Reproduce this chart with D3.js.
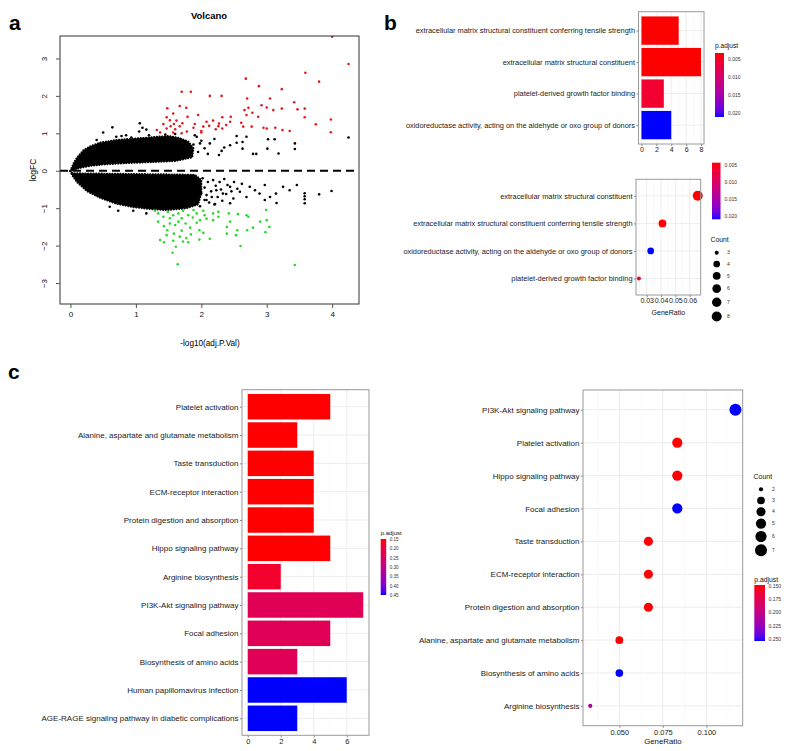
<!DOCTYPE html>
<html>
<head>
<meta charset="utf-8">
<script src="https://cdn.jsdelivr.net/npm/d3@7"></script>
<style>
  body { margin: 0; background: #fff; }
  svg text { font-family: "Liberation Sans", Arial, Helvetica, sans-serif; }
</style>
</head>
<body>
<div id="figure"></div>
<script>
// ---------- panel a: volcano ----------
const volcanoXTicks = [0, 1, 2, 3, 4];
const volcanoYTicks = [-3, -2, -1, 0, 1, 2, 3];

// [-log10(adj.P.Val), logFC]
const upGenes = [
  [4.0, 3.58], [4.25, 2.85], [3.59, 2.62], [3.80, 2.38], [2.68, 2.46], [2.88, 2.26], [3.23, 2.18],
  [1.70, 2.11], [1.84, 2.11], [2.13, 2.0], [2.31, 2.0], [2.70, 1.93], [3.05, 1.93], [3.42, 1.83],
  [3.47, 1.64], [3.58, 1.66], [3.23, 1.66], [3.10, 1.62], [2.92, 1.75], [3.0, 1.69], [2.72, 1.68],
  [2.78, 1.55], [2.69, 1.49], [1.48, 1.67], [1.67, 1.73], [1.77, 1.68], [1.57, 1.53], [1.79, 1.44],
  [1.95, 1.49], [1.47, 1.43], [1.52, 1.35], [1.62, 1.34], [1.71, 1.27], [1.53, 1.19], [1.47, 1.13],
  [1.60, 1.11], [1.67, 1.19], [1.90, 1.25], [1.32, 1.09], [1.37, 1.02], [1.57, 1.02], [1.70, 1.0],
  [2.0, 1.06], [2.08, 1.31], [2.18, 1.34], [2.32, 1.43], [2.45, 1.44], [2.26, 1.19], [2.32, 1.13],
  [2.44, 1.31], [2.22, 1.11], [2.0, 1.02], [2.61, 1.28], [2.64, 1.18], [2.77, 1.18], [2.95, 1.15],
  [3.0, 1.13], [3.13, 1.15], [3.24, 1.09], [3.35, 1.06], [3.58, 1.43], [3.75, 1.24], [3.98, 1.37],
  [3.98, 1.03], [2.87, 1.44], [2.66, 1.62], [2.03, 1.18], [1.42, 1.25], [1.58, 1.25], [1.88, 1.15],
  [2.12, 1.2], [2.27, 1.26], [1.78, 1.05], [2.38, 1.22]
];
const downGenes = [
  [3.43, -2.52], [1.64, -2.50], [1.56, -2.19], [1.61, -2.03], [2.60, -2.01], [1.37, -1.85],
  [1.43, -1.91], [1.57, -1.87], [1.72, -1.89], [1.80, -1.91], [2.13, -1.82], [1.67, -1.76],
  [1.84, -1.70], [2.03, -1.66], [2.39, -1.68], [2.53, -1.72], [2.98, -1.64], [2.70, -1.59],
  [2.55, -1.59], [2.39, -1.50], [2.79, -1.52], [3.04, -1.50], [1.48, -1.59], [1.58, -1.68],
  [1.70, -1.60], [1.97, -1.59], [1.43, -1.48], [1.52, -1.41], [1.65, -1.36], [1.76, -1.41],
  [1.93, -1.39], [2.08, -1.28], [2.18, -1.32], [2.26, -1.23], [2.44, -1.36], [2.56, -1.16],
  [2.72, -1.23], [2.90, -1.36], [3.0, -1.32], [2.99, -1.05], [1.34, -1.36], [1.34, -1.14],
  [1.42, -1.23], [1.49, -1.10], [1.57, -1.19], [1.65, -1.14], [1.72, -1.07], [1.80, -1.19],
  [1.87, -1.25], [1.93, -1.14], [1.98, -1.32], [2.05, -1.19], [2.18, -1.14], [2.26, -1.10],
  [2.42, -1.14], [2.69, -1.19], [1.29, -1.07], [1.52, -1.27], [1.60, -1.45], [1.83, -1.52],
  [1.70, -1.27], [1.88, -1.05], [2.03, -1.07], [1.47, -1.72], [1.77, -1.80], [1.97, -1.84]
];
const otherGenes = [
  [4.25, 0.89], [3.43, 0.73], [3.43, 0.58], [3.18, 0.46], [3.12, 0.84], [3.02, 0.84], [3.01, 0.59],
  [2.79, 0.45], [2.84, 0.45], [2.69, 0.91], [2.63, 0.77], [2.63, 0.59], [2.54, 0.93], [2.54, 0.75],
  [2.44, 0.68], [2.31, 0.53], [2.27, 0.42], [2.13, 0.73], [1.98, 0.73], [1.85, 0.42], [1.93, 0.91],
  [1.06, 1.27], [1.10, 1.15], [1.16, 1.10], [0.64, 1.16], [0.50, 1.02], [0.70, 0.91], [0.78, 0.93],
  [0.40, 0.82], [0.93, 0.89], [1.95, 0.5], [2.0, 0.8], [2.05, 0.6], [1.9, 0.95], [2.1, 0.45],
  [1.6, 0.98], [1.45, 0.97], [1.2, 0.95], [1.05, 1.05], [0.85, 0.95], [2.2, 0.85], [2.35, 0.62],
  [3.99, -0.54], [3.80, -0.63], [3.58, -0.60], [3.58, -0.68], [3.58, -0.76], [3.58, -0.87],
  [3.46, -0.38], [3.35, -0.52], [3.25, -0.43], [3.14, -0.61], [3.15, -0.86], [3.05, -0.70],
  [2.97, -0.38], [2.97, -0.78], [2.89, -0.61], [2.82, -0.52], [2.74, -0.43], [2.69, -0.70],
  [2.59, -0.56], [2.49, -0.74], [2.44, -0.43], [2.33, -0.61], [2.23, -0.52], [2.16, -0.70],
  [2.08, -0.78], [2.0, -0.61], [2.44, -0.87], [2.21, -0.89], [0.73, -1.07], [0.96, -1.07],
  [1.16, -1.14], [0.60, -0.96], [2.02, -0.2], [2.05, -0.45], [2.08, -0.65], [2.1, -0.3],
  [2.12, -0.85], [2.15, -0.55], [2.18, -0.25], [2.22, -0.4], [2.25, -0.7], [2.28, -0.3],
  [2.3, -0.5], [2.35, -0.22], [2.38, -0.62], [2.4, -0.38], [2.46, -0.55], [2.5, -0.3],
  [2.55, -0.48], [2.62, -0.35], [2.05, -0.78], [2.2, -0.9], [1.98, -0.95], [2.32, -0.8],
  [1.8, 0.55], [1.72, 0.78], [1.88, 0.7], [1.65, 0.62]
];
// outlines of the dense black clouds
const cloudUpper = [
  [0, 0], [0.05, 0.2], [0.1, 0.35], [0.2, 0.55], [0.3, 0.65], [0.45, 0.75], [0.7, 0.82], [1.0, 0.86],
  [1.3, 0.9], [1.5, 0.93], [1.65, 0.88], [1.8, 0.78], [1.88, 0.6], [1.86, 0.36], [1.6, 0.26],
  [1.2, 0.23], [0.8, 0.2], [0.5, 0.17], [0.3, 0.13], [0.15, 0.08], [0.05, 0.02]
];
const cloudLower = [
  [0, 0], [0.03, -0.07], [0.5, -0.08], [1.0, -0.09], [1.5, -0.1], [1.9, -0.11], [2.0, -0.25],
  [2.0, -0.6], [1.95, -0.9], [1.77, -1.0], [1.47, -1.05], [1.21, -1.02], [0.96, -0.97],
  [0.7, -0.88], [0.45, -0.72], [0.25, -0.54], [0.1, -0.3], [0.02, -0.1]
];

// ---------- panel b: GO molecular function ----------
const mfBarTerms = [
  "extracellular matrix structural constituent conferring tensile strength",
  "extracellular matrix structural constituent",
  "platelet-derived growth factor binding",
  "oxidoreductase activity, acting on the aldehyde or oxo group of donors"
];
const mfBarCount = [5, 8, 3, 4];
const mfBarPadj = [0.0033, 0.0033, 0.0055, 0.0211];
const mfBarCountTicks = [0, 2, 4, 6, 8];
const mfPadjTicks = [0.005, 0.010, 0.015, 0.020];

const mfDotTerms = [
  "extracellular matrix structural constituent",
  "extracellular matrix structural constituent conferring tensile strength",
  "oxidoreductase activity, acting on the aldehyde or oxo group of donors",
  "platelet-derived growth factor binding"
];
const mfDotRatio = [0.0656, 0.0410, 0.0328, 0.0246];
const mfDotCount = [8, 5, 4, 3];
const mfDotPadj = [0.0043, 0.0043, 0.0210, 0.0058];
const mfRatioTicks = [0.03, 0.04, 0.05, 0.06];
const mfCountKeys = [3, 4, 5, 6, 7, 8];

// ---------- panel c: KEGG ----------
const keggBarTerms = [
  "Platelet activation", "Alanine, aspartate and glutamate metabolism", "Taste transduction",
  "ECM-receptor interaction", "Protein digestion and absorption", "Hippo signaling pathway",
  "Arginine biosynthesis", "PI3K-Akt signaling pathway", "Focal adhesion",
  "Biosynthesis of amino acids", "Human papillomavirus infection",
  "AGE-RAGE signaling pathway in diabetic complications"
];
const keggBarCount = [5, 3, 4, 4, 4, 5, 2, 7, 5, 3, 6, 3];
const keggBarPadj = [0.148, 0.148, 0.148, 0.148, 0.148, 0.148, 0.18, 0.23, 0.23, 0.23, 0.448, 0.448];
const keggBarCountTicks = [0, 2, 4, 6];
const keggBarPadjTicks = [0.15, 0.20, 0.25, 0.30, 0.35, 0.40, 0.45];

const keggDotTerms = [
  "PI3K-Akt signaling pathway", "Platelet activation", "Hippo signaling pathway", "Focal adhesion",
  "Taste transduction", "ECM-receptor interaction", "Protein digestion and absorption",
  "Alanine, aspartate and glutamate metabolism", "Biosynthesis of amino acids", "Arginine biosynthesis"
];
const keggDotRatio = [0.1167, 0.0833, 0.0833, 0.0833, 0.0667, 0.0667, 0.0667, 0.05, 0.05, 0.0333];
const keggDotCount = [7, 5, 5, 5, 4, 4, 4, 3, 3, 2];
const keggDotPadj = [0.2535, 0.148, 0.148, 0.2535, 0.148, 0.148, 0.148, 0.148, 0.2535, 0.21];
const keggRatioTicks = [0.050, 0.075, 0.100];
const keggDotPadjTicks = [0.150, 0.175, 0.200, 0.225, 0.250];
const keggCountKeys = [2, 3, 4, 5, 6, 7];

const svg = d3.select("#figure").append("svg").attr("width", 800).attr("height", 751);
const defs = svg.append("defs");

const padjColor = domain => d3.scaleLinear().domain(domain).range(["#ff0000", "#0000ff"]).interpolate(d3.interpolateLab);
const sizeScale = (ext, rmin, rmax) => c => rmin + (rmax - rmin) * Math.sqrt((c - ext[0]) / (ext[1] - ext[0]));

function minorBreaks(major, domain) {
  const step = major[1] - major[0];
  const out = [];
  for (let i = -1; i < major.length; i++) {
    const v = major[0] + (i + 0.5) * step;
    if (v > domain[0] && v < domain[1]) out.push(v);
  }
  return out;
}

// white panel + grid like theme_bw
function ggFrame(g, box, cats, x, major) {
  const n = cats.length;
  const step = (box.y1 - box.y0) / (n - 1 + 1.2);
  const y = d3.scalePoint().domain(cats).range([box.y0 + 0.6 * step, box.y1 - 0.6 * step]);
  g.append("rect").attr("x", box.x0).attr("y", box.y0)
    .attr("width", box.x1 - box.x0).attr("height", box.y1 - box.y0).attr("fill", "#fff");
  g.append("g").selectAll("line").data(minorBreaks(major, x.domain())).join("line")
    .attr("x1", d => x(d)).attr("x2", d => x(d)).attr("y1", box.y0).attr("y2", box.y1)
    .attr("stroke", "#f3f3f3").attr("stroke-width", 0.5);
  g.append("g").selectAll("line").data(major).join("line")
    .attr("x1", d => x(d)).attr("x2", d => x(d)).attr("y1", box.y0).attr("y2", box.y1)
    .attr("stroke", "#e8e8e8").attr("stroke-width", 0.8);
  g.append("g").selectAll("line").data(cats).join("line")
    .attr("x1", box.x0).attr("x2", box.x1).attr("y1", d => y(d)).attr("y2", d => y(d))
    .attr("stroke", "#e8e8e8").attr("stroke-width", 0.8);
  return { y, step };
}

function ggAxes(g, box, x, y, major, fmt, o) {
  const ax = g.append("g").attr("transform", `translate(0,${box.y1})`)
    .call(d3.axisBottom(x).tickValues(major).tickFormat(fmt).tickSize(2).tickPadding(1.5));
  ax.select(".domain").remove();
  ax.attr("font-family", null);
  ax.selectAll("line").attr("stroke", "#333").attr("stroke-width", 0.6);
  ax.selectAll("text").attr("font-size", o.tickFont).attr("fill", "#222");

  const ay = g.append("g").attr("transform", `translate(${box.x0},0)`)
    .call(d3.axisLeft(y).tickSize(2).tickPadding(1.5));
  ay.select(".domain").remove();
  ay.attr("font-family", null);
  ay.selectAll("line").attr("stroke", "#333").attr("stroke-width", 0.6);
  ay.selectAll("text").attr("font-size", o.labelFont).attr("fill", "#1a1a1a");

  g.append("rect").attr("x", box.x0).attr("y", box.y0)
    .attr("width", box.x1 - box.x0).attr("height", box.y1 - box.y0)
    .attr("fill", "none").attr("stroke", "#9a9a9a").attr("stroke-width", 1);

  if (o.xTitle) {
    g.append("text").attr("x", (box.x0 + box.x1) / 2).attr("y", o.xTitleY)
      .attr("text-anchor", "middle").attr("font-size", o.titleFont).attr("fill", "#111").text(o.xTitle);
  }
}

function colorbar(g, o) {
  const color = padjColor(o.domain);
  const grad = defs.append("linearGradient").attr("id", o.id)
    .attr("x1", 0).attr("y1", 0).attr("x2", 0).attr("y2", 1);
  d3.range(0, 1.0001, 0.05).forEach(t => grad.append("stop").attr("offset", t)
    .attr("stop-color", color(o.domain[0] + t * (o.domain[1] - o.domain[0]))));
  g.append("rect").attr("x", o.x).attr("y", o.y).attr("width", o.w).attr("height", o.h)
    .attr("fill", `url(#${o.id})`);
  const s = d3.scaleLinear().domain(o.domain).range([o.y, o.y + o.h]);
  g.append("g").selectAll("text").data(o.ticks).join("text")
    .attr("x", o.x + o.w + o.gap).attr("y", d => s(d)).attr("dy", "0.35em")
    .attr("font-size", o.font).attr("fill", "#333").text(d3.format(o.fmt));
  if (o.title) {
    g.append("text").attr("x", o.x).attr("y", o.titleY)
      .attr("font-size", o.titleFont).attr("fill", "#111").text(o.title);
  }
}

function sizeLegend(g, o) {
  let yy = o.y0;
  const ys = o.keys.map((k, i) => {
    if (i > 0) yy += Math.max(o.minStep, o.r(o.keys[i - 1]) + o.r(k) + o.pad);
    return yy;
  });
  g.append("text").attr("x", o.titleX).attr("y", o.titleY)
    .attr("font-size", o.titleFont).attr("fill", "#111").text("Count");
  g.append("g").selectAll("circle").data(o.keys).join("circle")
    .attr("cx", o.x).attr("cy", (d, i) => ys[i]).attr("r", d => o.r(d)).attr("fill", "#000");
  g.append("g").selectAll("text").data(o.keys).join("text")
    .attr("x", o.labelX).attr("y", (d, i) => ys[i]).attr("dy", "0.35em")
    .attr("font-size", o.font).attr("fill", "#333").text(d => d);
}

function barPanel(o) {
  const g = svg.append("g");
  const x = d3.scaleLinear().domain(o.xDomain).range([o.box.x0, o.box.x1]);
  const { y, step } = ggFrame(g, o.box, o.terms, x, o.ticks);
  const color = padjColor(d3.extent(o.padj));
  g.append("g").selectAll("rect").data(o.terms).join("rect")
    .attr("x", x(0)).attr("y", d => y(d) - 0.45 * step)
    .attr("width", (d, i) => x(o.count[i]) - x(0)).attr("height", 0.9 * step)
    .attr("fill", (d, i) => color(o.padj[i]));
  ggAxes(g, o.box, x, y, o.ticks, d3.format("d"), o);
  return g;
}

function dotPanel(o) {
  const g = svg.append("g");
  const ext = d3.extent(o.ratio);
  const pad = (ext[1] - ext[0]) * 0.05;
  const x = d3.scaleLinear().domain([ext[0] - pad, ext[1] + pad]).range([o.box.x0, o.box.x1]);
  const { y } = ggFrame(g, o.box, o.terms, x, o.ticks);
  const color = padjColor(d3.extent(o.padj));
  g.append("g").selectAll("circle").data(o.terms).join("circle")
    .attr("cx", (d, i) => x(o.ratio[i])).attr("cy", d => y(d))
    .attr("r", (d, i) => o.r(o.count[i]))
    .attr("fill", (d, i) => color(o.padj[i]));
  ggAxes(g, o.box, x, y, o.ticks, d3.format(o.fmt), o);
  return g;
}

// ---------- draw panel a ----------
function drawVolcano() {
  const box = { x0: 60, x1: 359, y0: 36, y1: 304 };
  const x = d3.scaleLinear().domain([-0.16, 4.41]).range([box.x0, box.x1]);
  const y = d3.scaleLinear().domain([-3.56, 3.6]).range([box.y1, box.y0]);
  const g = svg.append("g");
  defs.append("clipPath").attr("id", "clipA").append("rect")
    .attr("x", box.x0).attr("y", box.y0).attr("width", box.x1 - box.x0).attr("height", box.y1 - box.y0);
  const plot = g.append("g").attr("clip-path", "url(#clipA)");

  const outline = d3.line().x(d => x(d[0])).y(d => y(d[1])).curve(d3.curveLinearClosed);
  [cloudUpper, cloudLower].forEach(poly => {
    plot.append("path").attr("d", outline(poly)).attr("fill", "#000");
    plot.append("path").attr("d", outline(poly)).attr("fill", "none")
      .attr("stroke", "#000").attr("stroke-width", 2.2)
      .attr("stroke-linecap", "round").attr("stroke-dasharray", "0.1 2.6");
  });

  const dots = (data, color) => plot.append("g").selectAll("circle").data(data).join("circle")
    .attr("cx", d => x(d[0])).attr("cy", d => y(d[1])).attr("r", 1.3).attr("fill", color);
  dots(otherGenes, "#000");
  plot.append("line").attr("x1", box.x0).attr("x2", box.x1).attr("y1", y(0)).attr("y2", y(0))
    .attr("stroke", "#000").attr("stroke-width", 2).attr("stroke-dasharray", "8 5");
  dots(upGenes, "#e31a1c");
  dots(downGenes, "#2fd62f");

  g.append("rect").attr("x", box.x0).attr("y", box.y0)
    .attr("width", box.x1 - box.x0).attr("height", box.y1 - box.y0)
    .attr("fill", "none").attr("stroke", "#333").attr("stroke-width", 1);

  const ax = g.append("g").attr("transform", `translate(0,${box.y1})`)
    .call(d3.axisBottom(x).tickValues(volcanoXTicks).tickFormat(d3.format("d")).tickSize(4).tickPadding(3));
  ax.select(".domain").remove();
  ax.attr("font-family", null);
  ax.selectAll("line").attr("stroke", "#555");
  ax.selectAll("text").attr("font-size", 8).attr("fill", "#111");

  const ay = g.append("g").attr("transform", `translate(${box.x0},0)`)
    .call(d3.axisLeft(y).tickValues(volcanoYTicks).tickFormat(d3.format("d")).tickSize(4).tickPadding(3));
  ay.select(".domain").remove();
  ay.attr("font-family", null);
  ay.selectAll("line").attr("stroke", "#555");
  ay.selectAll("text").attr("font-size", 8).attr("fill", "#111")
    .attr("text-anchor", "middle").attr("x", -13).attr("dy", 0)
    .attr("transform", "rotate(-90,-13,0)");

  g.append("text").attr("x", 209).attr("y", 19).attr("text-anchor", "middle")
    .attr("font-size", 9.5).attr("font-weight", "bold").text("Volcano");
  g.append("text").attr("x", 210).attr("y", 346).attr("text-anchor", "middle")
    .attr("font-size", 8.2).text("-log10(adj.P.Val)");
  g.append("text").attr("transform", "translate(36,170) rotate(-90)").attr("text-anchor", "middle")
    .attr("font-size", 8.5).text("logFC");
}
drawVolcano();

// ---------- draw panel b ----------
const gbBar = barPanel({
  box: { x0: 638.5, x1: 704, y0: 11.7, y1: 144 }, xDomain: [-0.4, 8.4],
  terms: mfBarTerms, count: mfBarCount, padj: mfBarPadj, ticks: mfBarCountTicks,
  tickFont: 7, labelFont: 7.4
});
colorbar(gbBar, {
  id: "gradMfBar", x: 715, y: 53, w: 9, h: 64, domain: d3.extent(mfBarPadj),
  ticks: mfPadjTicks, fmt: ".3f", gap: 4, font: 5,
  title: "p.adjust", titleY: 48, titleFont: 6.6
});

const mfR = sizeScale(d3.extent(mfDotCount), 2, 5);
const gbDot = dotPanel({
  box: { x0: 636, x1: 700.7, y0: 179.3, y1: 295 },
  terms: mfDotTerms, ratio: mfDotRatio, count: mfDotCount, padj: mfDotPadj,
  ticks: mfRatioTicks, fmt: ".2f", r: mfR,
  tickFont: 7, labelFont: 7.4, xTitle: "GeneRatio", xTitleY: 315, titleFont: 7
});
colorbar(gbDot, {
  id: "gradMfDot", x: 712, y: 162.7, w: 8.5, h: 56.6, domain: d3.extent(mfDotPadj),
  ticks: mfPadjTicks, fmt: ".3f", gap: 4, font: 5
});
sizeLegend(gbDot, {
  keys: mfCountKeys, r: mfR, x: 716.7, labelX: 727, y0: 252.7, minStep: 11.3, pad: 4.6,
  titleX: 710.5, titleY: 242, titleFont: 6.8, font: 5
});

// ---------- draw panel c ----------
const gcBar = barPanel({
  box: { x0: 242, x1: 369, y0: 389.7, y1: 735.3 }, xDomain: [-0.35, 7.35],
  terms: keggBarTerms, count: keggBarCount, padj: keggBarPadj, ticks: keggBarCountTicks,
  tickFont: 7.5, labelFont: 8
});
colorbar(gcBar, {
  id: "gradKeggBar", x: 380.7, y: 539, w: 5.5, h: 56, domain: d3.extent(keggBarPadj),
  ticks: keggBarPadjTicks, fmt: ".2f", gap: 3.5, font: 4.6,
  title: "p.adjust", titleY: 535, titleFont: 6
});

const keggR = sizeScale(d3.extent(keggDotCount), 2.1, 6);
const gcDot = dotPanel({
  box: { x0: 583, x1: 742.7, y0: 390, y1: 725.7 },
  terms: keggDotTerms, ratio: keggDotRatio, count: keggDotCount, padj: keggDotPadj,
  ticks: keggRatioTicks, fmt: ".3f", r: keggR,
  tickFont: 7.5, labelFont: 8, xTitle: "GeneRatio", xTitleY: 744, titleFont: 7.8
});
sizeLegend(gcDot, {
  keys: keggCountKeys, r: keggR, x: 761, labelX: 772, y0: 489.3, minStep: 11.2, pad: 2.2,
  titleX: 753.5, titleY: 479, titleFont: 7, font: 5
});
colorbar(gcDot, {
  id: "gradKeggDot", x: 754.3, y: 585, w: 10.7, h: 56, domain: d3.extent(keggDotPadj),
  ticks: keggDotPadjTicks, fmt: ".3f", gap: 3.5, font: 5,
  title: "p.adjust", titleY: 582, titleFont: 6.8
});

// ---------- panel letters ----------
[["a", 9, 30], ["b", 384, 30], ["c", 8, 379]].forEach(([t, px, py]) => {
  svg.append("text").attr("x", px).attr("y", py).attr("font-size", 21)
    .attr("font-weight", "bold").text(t);
});
</script>
</body>
</html>
